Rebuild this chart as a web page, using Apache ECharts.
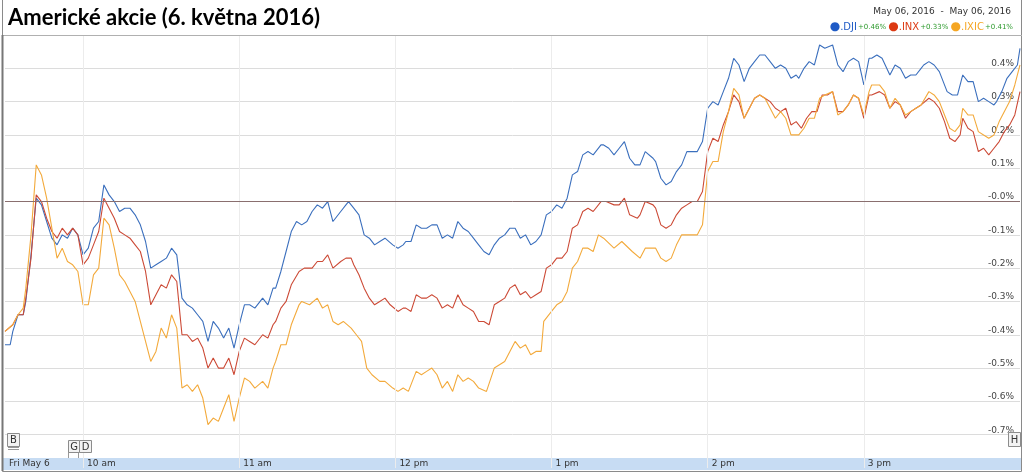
<!DOCTYPE html>
<html><head><meta charset="utf-8">
<script src="https://cdn.jsdelivr.net/npm/echarts@6/dist/echarts.min.js"></script>
<style>html,body{margin:0;padding:0;background:#fff}#c{width:1024px;height:475px}</style>
</head><body><div id="c"></div>
<script>
const titleText = 'Americké akcie (6. května 2016)';
const dateRange = 'May 06, 2016  -  May 06, 2016';
const seriesNames = ['.DJI', '.INX', '.IXIC'];
const seriesChanges = ['+0.46%', '+0.33%', '+0.41%'];
const hourTicks = [0, 30, 90, 150, 210, 270, 330];
const hourLabels = ['Fri May 6', '10 am', '11 am', '12 pm', '1 pm', '2 pm', '3 pm'];
// minutes since 9:30 open, % change
const dji = [[0,-0.43],[2,-0.43],[3,-0.39],[5,-0.34],[7,-0.34],[8,-0.30],[10,-0.16],[12,0.01],[14,-0.01],[16,-0.06],[18,-0.11],[20,-0.13],[22,-0.10],[24,-0.11],[26,-0.08],[28,-0.10],[30,-0.16],[32,-0.14],[34,-0.08],[36,-0.06],[38,0.05],[40,0.02],[42,0.00],[44,-0.03],[46,-0.02],[48,-0.02],[50,-0.04],[52,-0.07],[54,-0.12],[56,-0.20],[58,-0.19],[60,-0.18],[62,-0.17],[64,-0.14],[66,-0.16],[68,-0.29],[70,-0.31],[72,-0.32],[74,-0.34],[76,-0.36],[78,-0.42],[80,-0.36],[82,-0.38],[84,-0.41],[86,-0.38],[88,-0.44],[90,-0.37],[92,-0.31],[94,-0.31],[96,-0.32],[99,-0.29],[101,-0.31],[103,-0.26],[104,-0.26],[106,-0.21],[108,-0.15],[110,-0.09],[112,-0.06],[114,-0.07],[116,-0.06],[118,-0.03],[120,-0.01],[122,-0.02],[124,0.00],[126,-0.06],[129,-0.03],[131,-0.01],[132,0.00],[134,-0.02],[136,-0.04],[138,-0.10],[140,-0.11],[142,-0.13],[144,-0.12],[146,-0.11],[149,-0.13],[151,-0.14],[153,-0.13],[154,-0.12],[156,-0.12],[158,-0.07],[160,-0.08],[162,-0.08],[164,-0.07],[166,-0.07],[168,-0.11],[170,-0.10],[172,-0.11],[174,-0.06],[176,-0.08],[178,-0.09],[180,-0.11],[182,-0.13],[184,-0.15],[186,-0.16],[188,-0.13],[190,-0.11],[192,-0.10],[194,-0.08],[196,-0.08],[198,-0.11],[200,-0.10],[202,-0.13],[204,-0.12],[206,-0.10],[208,-0.04],[210,-0.03],[212,-0.01],[214,-0.02],[216,0.01],[218,0.08],[220,0.09],[222,0.14],[224,0.15],[226,0.14],[229,0.17],[230,0.17],[232,0.16],[234,0.14],[236,0.16],[238,0.18],[240,0.13],[242,0.11],[244,0.11],[246,0.15],[249,0.13],[250,0.12],[252,0.07],[254,0.05],[256,0.06],[258,0.09],[260,0.11],[262,0.15],[264,0.15],[266,0.15],[268,0.18],[270,0.28],[272,0.30],[274,0.29],[276,0.33],[278,0.37],[280,0.43],[282,0.41],[284,0.36],[286,0.40],[288,0.42],[290,0.44],[292,0.44],[294,0.42],[296,0.40],[298,0.41],[300,0.40],[302,0.37],[304,0.38],[305,0.37],[307,0.40],[309,0.42],[311,0.41],[313,0.47],[315,0.46],[318,0.47],[320,0.41],[322,0.39],[324,0.42],[326,0.43],[328,0.42],[330,0.35],[332,0.43],[333,0.43],[335,0.44],[337,0.43],[340,0.38],[342,0.41],[344,0.40],[346,0.37],[348,0.38],[350,0.38],[352,0.40],[353,0.41],[355,0.42],[357,0.41],[359,0.39],[362,0.33],[364,0.32],[366,0.32],[368,0.38],[370,0.36],[372,0.36],[374,0.30],[376,0.31],[378,0.30],[380,0.29],[381,0.30],[383,0.33],[385,0.37],[387,0.39],[389,0.41],[390,0.46]];
const inx = [[0,-0.39],[3,-0.37],[5,-0.34],[7,-0.34],[8,-0.29],[10,-0.17],[12,0.02],[14,0.00],[16,-0.05],[18,-0.09],[20,-0.11],[22,-0.08],[24,-0.10],[26,-0.08],[28,-0.10],[30,-0.19],[32,-0.17],[34,-0.13],[36,-0.09],[38,0.01],[40,-0.02],[42,-0.05],[44,-0.09],[46,-0.10],[48,-0.11],[50,-0.13],[52,-0.15],[54,-0.21],[56,-0.31],[58,-0.28],[60,-0.25],[62,-0.26],[64,-0.22],[66,-0.24],[68,-0.40],[70,-0.40],[72,-0.42],[74,-0.41],[76,-0.44],[78,-0.50],[80,-0.47],[82,-0.50],[84,-0.50],[86,-0.47],[88,-0.52],[90,-0.45],[92,-0.41],[94,-0.42],[96,-0.43],[99,-0.40],[101,-0.41],[103,-0.37],[104,-0.36],[106,-0.32],[108,-0.30],[110,-0.25],[113,-0.21],[115,-0.20],[118,-0.20],[120,-0.18],[122,-0.18],[124,-0.16],[126,-0.20],[129,-0.18],[131,-0.17],[133,-0.17],[134,-0.19],[136,-0.22],[138,-0.26],[140,-0.29],[142,-0.31],[144,-0.30],[146,-0.29],[148,-0.31],[151,-0.33],[153,-0.32],[154,-0.32],[156,-0.33],[158,-0.28],[160,-0.29],[162,-0.29],[164,-0.28],[166,-0.29],[168,-0.32],[170,-0.31],[172,-0.32],[174,-0.28],[176,-0.31],[178,-0.32],[180,-0.33],[182,-0.36],[184,-0.36],[186,-0.37],[188,-0.31],[190,-0.30],[192,-0.29],[194,-0.26],[196,-0.25],[198,-0.28],[200,-0.27],[202,-0.29],[204,-0.28],[206,-0.27],[208,-0.20],[210,-0.19],[212,-0.17],[214,-0.17],[216,-0.15],[218,-0.08],[220,-0.07],[222,-0.03],[224,-0.02],[226,-0.03],[229,0.00],[231,0.00],[234,-0.01],[236,-0.01],[238,0.01],[240,-0.04],[243,-0.05],[244,-0.04],[246,0.00],[249,-0.01],[250,-0.02],[252,-0.07],[254,-0.08],[256,-0.07],[258,-0.04],[260,-0.02],[262,-0.01],[264,0.00],[266,0.00],[268,0.03],[270,0.15],[272,0.19],[274,0.18],[276,0.23],[278,0.27],[280,0.32],[282,0.30],[284,0.25],[286,0.28],[288,0.31],[290,0.32],[292,0.31],[294,0.30],[296,0.28],[298,0.27],[300,0.28],[302,0.23],[304,0.24],[306,0.22],[308,0.25],[310,0.27],[312,0.27],[314,0.32],[316,0.32],[318,0.33],[320,0.27],[322,0.27],[324,0.29],[326,0.32],[328,0.31],[330,0.25],[332,0.32],[333,0.32],[336,0.33],[338,0.32],[340,0.28],[342,0.30],[344,0.29],[346,0.25],[348,0.27],[350,0.28],[352,0.29],[355,0.31],[357,0.30],[359,0.28],[361,0.24],[363,0.19],[365,0.18],[367,0.20],[368,0.25],[370,0.22],[372,0.21],[374,0.15],[376,0.16],[378,0.14],[380,0.16],[382,0.18],[384,0.21],[386,0.23],[388,0.26],[390,0.33]];
const ixic = [[0,-0.39],[3,-0.37],[5,-0.34],[7,-0.32],[8,-0.26],[10,-0.10],[12,0.11],[14,0.08],[16,0.01],[18,-0.08],[20,-0.17],[22,-0.14],[24,-0.18],[26,-0.19],[28,-0.21],[30,-0.31],[32,-0.31],[34,-0.22],[36,-0.20],[38,-0.05],[40,-0.07],[42,-0.14],[44,-0.22],[46,-0.24],[48,-0.27],[50,-0.30],[52,-0.36],[54,-0.42],[56,-0.48],[58,-0.45],[60,-0.38],[62,-0.41],[64,-0.34],[66,-0.38],[68,-0.56],[70,-0.55],[72,-0.57],[74,-0.55],[76,-0.59],[78,-0.67],[80,-0.65],[82,-0.66],[84,-0.62],[86,-0.58],[88,-0.66],[90,-0.59],[92,-0.53],[94,-0.54],[96,-0.56],[99,-0.54],[101,-0.56],[103,-0.50],[104,-0.48],[106,-0.43],[108,-0.43],[110,-0.37],[113,-0.31],[114,-0.30],[117,-0.31],[120,-0.29],[122,-0.32],[124,-0.31],[126,-0.36],[128,-0.37],[130,-0.36],[133,-0.38],[135,-0.40],[137,-0.42],[139,-0.50],[141,-0.52],[144,-0.54],[146,-0.54],[149,-0.56],[151,-0.57],[153,-0.56],[155,-0.57],[158,-0.51],[160,-0.52],[162,-0.51],[164,-0.50],[166,-0.52],[168,-0.56],[170,-0.54],[172,-0.57],[174,-0.52],[176,-0.54],[178,-0.53],[180,-0.54],[182,-0.56],[185,-0.57],[188,-0.50],[190,-0.49],[192,-0.48],[194,-0.45],[196,-0.42],[198,-0.44],[200,-0.43],[202,-0.46],[204,-0.45],[206,-0.45],[207,-0.36],[210,-0.33],[212,-0.31],[214,-0.30],[216,-0.27],[218,-0.20],[220,-0.18],[222,-0.14],[224,-0.14],[226,-0.15],[228,-0.10],[230,-0.11],[234,-0.14],[237,-0.12],[241,-0.15],[244,-0.17],[246,-0.14],[249,-0.14],[250,-0.14],[252,-0.17],[254,-0.18],[256,-0.17],[258,-0.13],[260,-0.10],[262,-0.10],[266,-0.10],[268,-0.07],[269,0.01],[270,0.09],[272,0.12],[274,0.12],[276,0.21],[278,0.27],[280,0.34],[282,0.32],[284,0.25],[286,0.28],[288,0.31],[290,0.32],[292,0.31],[294,0.28],[296,0.25],[298,0.27],[300,0.25],[302,0.20],[304,0.20],[305,0.20],[307,0.22],[309,0.25],[311,0.25],[313,0.31],[315,0.32],[318,0.33],[320,0.26],[322,0.27],[324,0.29],[326,0.32],[328,0.31],[330,0.26],[332,0.33],[333,0.35],[336,0.35],[338,0.33],[340,0.28],[342,0.31],[344,0.29],[346,0.26],[348,0.27],[350,0.28],[352,0.29],[355,0.33],[357,0.32],[359,0.30],[361,0.26],[363,0.22],[365,0.21],[367,0.23],[368,0.28],[370,0.26],[372,0.26],[374,0.21],[376,0.20],[378,0.19],[380,0.20],[382,0.24],[384,0.27],[386,0.30],[388,0.35],[390,0.41]];

const lineColors = ['#3b6fbd', '#cc4a36', '#f3aa3c'];
const legendColors = ['#1f5bc6', '#dc3912', '#f5a623'];
const FONT = '"DejaVu Sans", Verdana, sans-serif';

const chart = echarts.init(document.getElementById('c'), null, {renderer: 'canvas'});

function mkSeries(name, data, color) {
  return {name, type: 'line', data, showSymbol: false, symbol: 'none', z: 3,
    lineStyle: {color, width: 1.1}, itemStyle: {color}, clip: true, silent: true};
}

const flags = [
  {t: 'B', x: 7, y: 433, w: 12, h: 13},
  {t: 'G', x: 68, y: 440, w: 11, h: 12},
  {t: 'D', x: 79, y: 440, w: 12, h: 12},
  {t: 'H', x: 1008, y: 432, w: 12, h: 14}
];
const graphics = [
  {type: 'rect', shape: {x: 3, y: 458, width: 1018, height: 12}, style: {fill: '#c7dcf3'}, z: 1, silent: true},
  {type: 'polyline', shape: {points: [[2.5, 0], [2.5, 471.5], [1021.5, 471.5], [1021.5, 0]]}, style: {stroke: '#8a8a8a', lineWidth: 1, fill: null}, z: 20, silent: true},
  {type: 'line', shape: {x1: 2, y1: 35.5, x2: 1022, y2: 35.5}, style: {stroke: '#b0b0b0', lineWidth: 1}, z: 20, silent: true},
  {type: 'line', shape: {x1: 2.5, y1: 35, x2: 2.5, y2: 471}, style: {stroke: '#777', lineWidth: 2}, z: 20, silent: true},
  {type: 'text', x: 8, y: 18, style: {text: titleText, font: 'bold 22px Lato, sans-serif', fill: '#000', verticalAlign: 'middle', align: 'left'}, z: 20, silent: true},
  {type: 'text', x: 1011, y: 12, style: {text: dateRange, font: '9px ' + FONT, fill: '#333', verticalAlign: 'middle', align: 'right'}, z: 20, silent: true},
  {type: 'text', x: 1013, y: 27, z: 20, silent: true, style: {
    text: seriesNames.map((n, i) => `{d${i}|●}{n${i}|${n}}{p|${seriesChanges[i]}}`).join('{s| }'),
    align: 'right', verticalAlign: 'middle',
    rich: Object.assign({p: {fill: '#2c9a2c', fontSize: 7, fontFamily: FONT, padding: [1, 0, 0, 1]}, s: {fontSize: 7, fontFamily: FONT}},
      ...seriesNames.map((n, i) => ({['d' + i]: {fill: legendColors[i], fontSize: 12, fontFamily: FONT}, ['n' + i]: {fill: legendColors[i], fontSize: 10, fontFamily: FONT}})))
  }},
  {type: 'polyline', shape: {points: [[8, 447.5], [19, 447.5]]}, style: {stroke: '#999', lineWidth: 1}, z: 21, silent: true},
  {type: 'polyline', shape: {points: [[8, 449.5], [19, 449.5]]}, style: {stroke: '#999', lineWidth: 1}, z: 21, silent: true},
  {type: 'line', shape: {x1: 68.5, y1: 452, x2: 68.5, y2: 458}, style: {stroke: '#999', lineWidth: 1}, z: 21, silent: true},
  {type: 'line', shape: {x1: 78.5, y1: 452, x2: 78.5, y2: 458}, style: {stroke: '#999', lineWidth: 1}, z: 21, silent: true}
];
flags.forEach(f => {
  graphics.push({type: 'rect', shape: {x: f.x + 0.5, y: f.y + 0.5, width: f.w, height: f.h}, style: {fill: '#f3f3f3', stroke: '#8c8c8c', lineWidth: 1}, z: 21, silent: true});
  graphics.push({type: 'text', x: f.x + f.w / 2 + 0.5, y: f.y + f.h / 2 + 1, style: {text: f.t, font: '10px ' + FONT, fill: '#333', align: 'center', verticalAlign: 'middle'}, z: 22, silent: true});
});

const option = {
  animation: false,
  backgroundColor: '#ffffff',
  grid: {left: 5, right: 4, top: 35, bottom: 7, containLabel: false},
  xAxis: {
    type: 'value', min: 0, max: 390, interval: 30, z: 10,
    axisLine: {show: false}, axisTick: {show: false}, splitLine: {show: false},
    axisLabel: {
      inside: true, margin: 4, verticalAlign: 'middle', align: 'left', padding: [0, 0, 0, 4],
      showMinLabel: true, showMaxLabel: false,
      fontFamily: FONT, fontSize: 9, color: '#333',
      formatter: v => { const k = hourTicks.indexOf(v); return k >= 0 ? hourLabels[k] : ''; }
    }
  },
  yAxis: {
    type: 'value', position: 'right', min: -0.8, max: 0.5, interval: 0.1,
    axisLine: {show: false}, axisTick: {show: false},
    splitLine: {show: true, showMinLine: false, showMaxLine: false, lineStyle: {color: '#dcdcdc', width: 1}},
    axisLabel: {
      inside: true, margin: 6, verticalAlign: 'bottom', fontFamily: FONT, fontSize: 9, color: '#444',
      formatter: v => {
        if (v > 0.45 || v < -0.75) return '';
        if (Math.abs(v) < 1e-9) return '-0.0%';
        return v.toFixed(1) + '%';
      }
    }
  },
  series: [
    {type: 'line', data: [], z: 1, silent: true,
      markLine: {silent: true, symbol: 'none', label: {show: false}, animation: false,
        lineStyle: {color: '#ececec', width: 1, type: 'solid'},
        data: hourTicks.slice(1).map(t => ({xAxis: t}))}},
    {type: 'line', data: [], z: 2, silent: true,
      markLine: {silent: true, symbol: 'none', label: {show: false}, animation: false,
        lineStyle: {color: '#8a6f6f', width: 1, type: 'solid'},
        data: [{yAxis: 0}]}},
    mkSeries(seriesNames[0], dji, lineColors[0]),
    mkSeries(seriesNames[1], inx, lineColors[1]),
    mkSeries(seriesNames[2], ixic, lineColors[2])
  ],
  graphic: {elements: graphics}
};
chart.setOption(option);
</script>
</body></html>
